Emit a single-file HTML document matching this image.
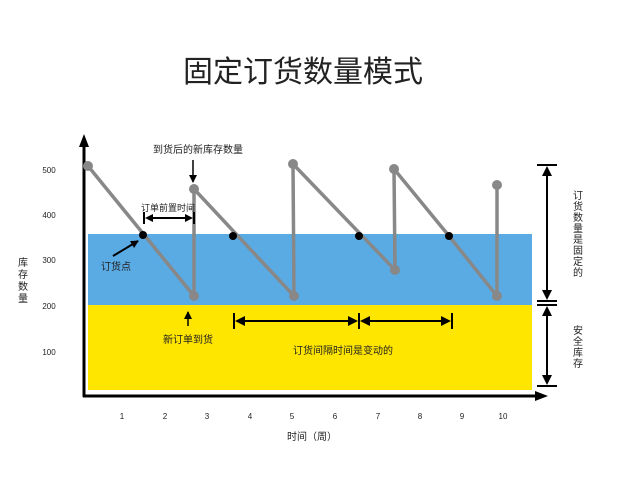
<!DOCTYPE html>
<html><head><meta charset="utf-8"><style>
html,body{margin:0;padding:0;background:#fff;width:640px;height:480px;overflow:hidden}
svg text{font-family:"Liberation Sans","Noto Sans CJK SC",sans-serif;fill:#222}
</style></head><body>
<svg width="640" height="480" viewBox="0 0 640 480" xmlns="http://www.w3.org/2000/svg">
<defs>
<marker id="ah" markerWidth="8" markerHeight="8" refX="7" refY="4" orient="auto" markerUnits="userSpaceOnUse"><path d="M0,0 L8,4 L0,8 z" fill="#000"/></marker>
</defs>
<text x="303" y="82" font-size="30" text-anchor="middle" fill="#000">固定订货数量模式</text>
<rect x="88" y="234" width="444" height="71" fill="#5aaae3"/>
<rect x="88" y="305" width="444" height="85" fill="#ffe600"/>
<line x1="84" y1="397" x2="84" y2="146" stroke="#000" stroke-width="3"/>
<path d="M84,134 L79,147 L89,147z" fill="#000"/>
<line x1="83" y1="396" x2="536" y2="396" stroke="#000" stroke-width="3"/>
<path d="M548,396 L535,391 L535,401z" fill="#000"/>
<g font-size="8" text-anchor="middle" fill="#333">
<text x="49" y="173">500</text><text x="49" y="218">400</text><text x="49" y="263">300</text><text x="49" y="309">200</text><text x="49" y="355">100</text>
<text x="122" y="419">1</text><text x="165" y="419">2</text><text x="207" y="419">3</text><text x="250" y="419">4</text><text x="292" y="419">5</text><text x="335" y="419">6</text><text x="378" y="419">7</text><text x="420" y="419">8</text><text x="462" y="419">9</text><text x="503" y="419">10</text>
</g>
<g font-size="10" text-anchor="middle"><text x="23" y="266">库</text><text x="23" y="278">存</text><text x="23" y="290">数</text><text x="23" y="302">量</text></g>
<text x="312" y="440" font-size="10" text-anchor="middle">时间（周）</text>
<polyline points="88,166 194,296 194,189 294,296 293,164 395,270 394,169 449,236 497,296 497,185" fill="none" stroke="#888" stroke-width="3.5" stroke-linejoin="round"/>
<g fill="#888"><circle cx="88" cy="166" r="5"/><circle cx="194" cy="296" r="5"/><circle cx="194" cy="189" r="5"/><circle cx="294" cy="296" r="5"/><circle cx="293" cy="164" r="5"/><circle cx="395" cy="270" r="5"/><circle cx="394" cy="169" r="5"/><circle cx="497" cy="296" r="5"/><circle cx="497" cy="185" r="5"/></g>
<g fill="#000"><circle cx="143" cy="235" r="4"/><circle cx="233" cy="236" r="4"/><circle cx="359" cy="236" r="4"/><circle cx="449" cy="236" r="4"/></g>
<text x="198" y="153" font-size="10" text-anchor="middle">到货后的新库存数量</text>
<line x1="193" y1="160" x2="193" y2="182" stroke="#000" stroke-width="1.5" marker-end="url(#ah)"/>
<text x="168" y="211" font-size="9" text-anchor="middle">订单前置时间</text>
<g stroke="#000" stroke-width="2"><line x1="144" y1="212" x2="144" y2="224"/><line x1="194" y1="212" x2="194" y2="224"/>
<line x1="150" y1="218" x2="188" y2="218"/></g>
<path d="M145,218 L153,214 L153,222z M193,218 L185,214 L185,222z" fill="#000"/>
<text x="116" y="270" font-size="10" text-anchor="middle" fill="#333">订货点</text>
<line x1="113" y1="256" x2="138" y2="241" stroke="#000" stroke-width="2" marker-end="url(#ah)"/>
<line x1="188" y1="326" x2="188" y2="312" stroke="#000" stroke-width="1.5" marker-end="url(#ah)"/>
<text x="188" y="343" font-size="10" text-anchor="middle">新订单到货</text>
<g stroke="#000" stroke-width="2"><line x1="234" y1="313" x2="234" y2="329"/><line x1="359" y1="313" x2="359" y2="329"/><line x1="452" y1="313" x2="452" y2="329"/>
<line x1="240" y1="321" x2="353" y2="321"/><line x1="365" y1="321" x2="446" y2="321"/></g>
<path d="M235,321 L245,316 L245,326z M358,321 L348,316 L348,326z M360,321 L370,316 L370,326z M451,321 L441,316 L441,326z" fill="#000"/>
<text x="343" y="354" font-size="10" text-anchor="middle">订货间隔时间是变动的</text>
<g stroke="#000" stroke-width="2"><line x1="537" y1="165" x2="557" y2="165"/><line x1="537" y1="301" x2="557" y2="301"/><line x1="537" y1="305" x2="557" y2="305"/><line x1="537" y1="386" x2="557" y2="386"/>
<line x1="547" y1="172" x2="547" y2="292"/><line x1="547" y1="314" x2="547" y2="378"/></g>
<path d="M547,166 L542,176 L552,176z M547,300 L542,290 L552,290z M547,306 L542,316 L552,316z M547,385 L542,375 L552,375z" fill="#000"/>
<g font-size="10" text-anchor="middle" fill="#333">
<text x="578" y="199">订</text><text x="578" y="210">货</text><text x="578" y="221">数</text><text x="578" y="232">量</text><text x="578" y="243">是</text><text x="578" y="254">固</text><text x="578" y="265">定</text><text x="578" y="276">的</text>
<text x="578" y="334">安</text><text x="578" y="345">全</text><text x="578" y="356">库</text><text x="578" y="367">存</text></g>
</svg>
</body></html>
